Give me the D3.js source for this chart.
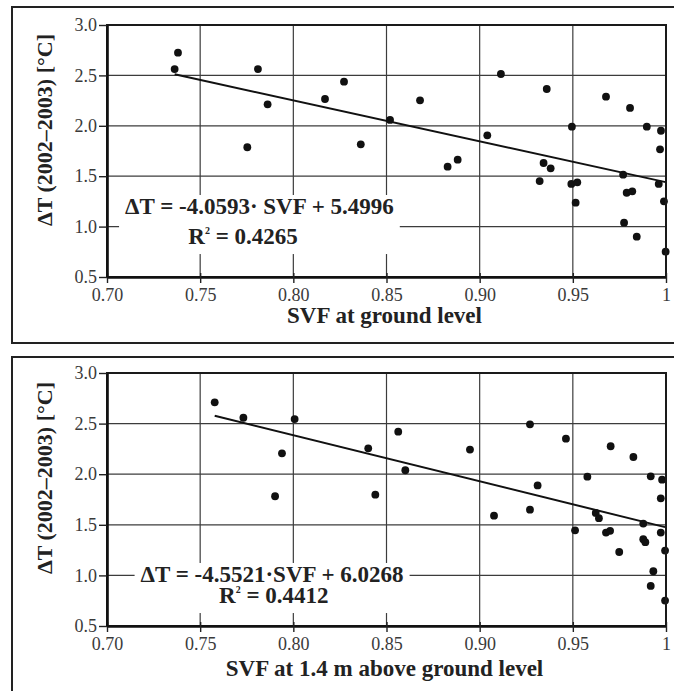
<!DOCTYPE html>
<html>
<head>
  <meta charset="utf-8">
  <title>SVF vs dT</title>
  <style>
    body { margin: 0; background: #fff; overflow: hidden; }
    svg { display: block; font-family: "Liberation Serif", "Times New Roman", serif; }
    .tick text { font-family: "Liberation Serif", "Times New Roman", serif; font-size: 18px; fill: #3a3a3a; }
    .grid line { stroke: #3c3c3c; stroke-width: 1.2; }
    .title { font-size: 22px; font-weight: bold; fill: #222; }
    .xtitle { font-size: 23px; }
    .eq { font-size: 23px; font-weight: bold; fill: #222; }
  </style>
</head>
<body>
<svg id="chart" width="674" height="691"></svg>
<script src="https://cdn.jsdelivr.net/npm/d3@7"></script>
<script>
// axis ticks (shared by both panels)
const xTicks = [0.70, 0.75, 0.80, 0.85, 0.90, 0.95, 1.00];
const xTickLabels = ["0.70", "0.75", "0.80", "0.85", "0.90", "0.95", "1"];
const yTicks = [0.5, 1.0, 1.5, 2.0, 2.5, 3.0];
const yTickLabels = ["0.5", "1.0", "1.5", "2.0", "2.5", "3.0"];

// panel 1: SVF at ground level
const svfGround = [0.7381, 0.7363, 0.781, 0.7862, 0.7753, 0.817, 0.8272, 0.868, 0.8519, 0.8362,
  0.8828, 0.8882, 0.9041, 0.9114, 0.936, 0.9343, 0.9381, 0.9322, 0.9495, 0.9492,
  0.9524, 0.9515, 0.9678, 0.9807, 0.977, 0.9789, 0.9819, 0.9775, 0.9843, 0.9897,
  0.9973, 0.9968, 0.9961, 0.9989, 0.9998];
const dtGround = [2.725, 2.563, 2.563, 2.213, 1.787, 2.266, 2.438, 2.253, 2.058, 1.816,
  1.594, 1.664, 1.906, 2.514, 2.365, 1.631, 1.578, 1.452, 1.991, 1.423,
  1.439, 1.237, 2.289, 2.177, 1.515, 1.336, 1.35, 1.039, 0.9, 1.991,
  1.951, 1.767, 1.423, 1.251, 0.751];

// panel 2: SVF at 1.4 m above ground level
const svf14 = [0.7578, 0.7732, 0.8007, 0.7939, 0.7902, 0.8402, 0.8563, 0.8601, 0.844, 0.8948,
  0.9077, 0.927, 0.927, 0.9311, 0.9463, 0.9512, 0.9578, 0.9703, 0.9623, 0.964,
  0.9678, 0.97, 0.9749, 0.9825, 0.9878, 0.9878, 0.9889, 0.9918, 0.9979, 0.9972,
  0.9972, 0.9995, 0.9932, 0.9918, 0.9995];
const dt14 = [2.71, 2.558, 2.545, 2.206, 1.782, 2.256, 2.42, 2.039, 1.798, 2.243,
  1.59, 2.493, 1.649, 1.889, 2.351, 1.445, 1.976, 2.276, 1.617, 1.565,
  1.423, 1.44, 1.231, 2.17, 1.512, 1.358, 1.328, 1.979, 1.946, 1.762,
  1.423, 1.245, 1.041, 0.896, 0.751];

const xTitles = ["SVF at ground level", "SVF at 1.4 m above ground level"];
const yTitle = "\u0394T (2002\u20132003) [\u00b0C]";
const slopes = [-4.0593, -4.5521];
const intercepts = [5.4996, 6.0268];
const eqTexts = ["\u0394T = -4.0593\u00b7 SVF + 5.4996", "\u0394T = -4.5521\u00b7SVF + 6.0268"];
const r2Texts = ["0.4265", "0.4412"];

const panels = [
  { top: 7, height: 336, plotTop: 25, plotBottom: 277, titleGap: 46,
    eq: [0.7818, 1.125], r2: [0.773, 0.827], xs: svfGround, ys: dtGround },
  { top: 357, height: 400, plotTop: 373, plotBottom: 626, titleGap: 50,
    eq: [0.7886, 0.935], r2: [0.7895, 0.727], xs: svf14, ys: dt14 }
];

const svg = d3.select("#chart");
const plotLeft = 107, plotRight = 666;

panels.forEach(function(p, k) {
  const g = svg.append("g");
  const x = d3.scaleLinear().domain([0.70, 1.0]).range([plotLeft, plotRight]);
  const y = d3.scaleLinear().domain([0.5, 3.0]).range([p.plotBottom, p.plotTop]);

  // panel frame
  g.append("rect")
    .attr("x", 12).attr("y", p.top)
    .attr("width", 700).attr("height", p.height)
    .attr("fill", "#fff").attr("stroke", "#222").attr("stroke-width", 2);

  // grid
  const grid = g.append("g").attr("class", "grid");
  grid.selectAll(".vx").data(xTicks.slice(1, -1)).enter().append("line")
    .attr("x1", d => x(d)).attr("x2", d => x(d))
    .attr("y1", p.plotTop).attr("y2", p.plotBottom);
  grid.selectAll(".hy").data(yTicks.slice(1, -1)).enter().append("line")
    .attr("y1", d => y(d)).attr("y2", d => y(d))
    .attr("x1", plotLeft).attr("x2", plotRight);

  // equation with white box behind it
  const eqG = g.append("g");
  const box = eqG.append("rect").attr("fill", "#fff");
  eqG.append("text").attr("class", "eq")
    .attr("x", x(p.eq[0])).attr("y", y(p.eq[1]))
    .attr("text-anchor", "middle")
    .text(eqTexts[k]);
  const r2 = eqG.append("text").attr("class", "eq")
    .attr("x", x(p.r2[0])).attr("y", y(p.r2[1]))
    .attr("text-anchor", "middle");
  r2.append("tspan").text("R");
  r2.append("tspan").attr("font-size", 10).attr("dy", -10).text("2");
  r2.append("tspan").attr("dy", 10).text(" = " + r2Texts[k]);
  const bb = eqG.node().getBBox();
  box.attr("x", bb.x - 6).attr("y", bb.y + 1)
    .attr("width", bb.width + 12).attr("height", bb.height + 4);

  // regression line over the data range
  const ext = d3.extent(p.xs);
  const line = d3.line().x(d => x(d)).y(d => y(slopes[k] * d + intercepts[k]));
  g.append("path").datum(ext)
    .attr("d", line)
    .attr("fill", "none").attr("stroke", "#111").attr("stroke-width", 2);

  // points
  g.selectAll("circle").data(p.xs).enter().append("circle")
    .attr("cx", d => x(d))
    .attr("cy", (d, i) => y(p.ys[i]))
    .attr("r", 3.9)
    .attr("fill", "#111");

  // plot border
  g.append("rect")
    .attr("x", plotLeft).attr("y", p.plotTop)
    .attr("width", plotRight - plotLeft).attr("height", p.plotBottom - p.plotTop)
    .attr("fill", "none").attr("stroke", "#1a1a1a").attr("stroke-width", 2);

  // axes
  const ax = g.append("g")
    .attr("transform", "translate(0," + p.plotBottom + ")")
    .call(d3.axisBottom(x).tickValues(xTicks)
      .tickFormat((d, i) => xTickLabels[i])
      .tickSize(6).tickSizeOuter(0).tickPadding(5));
  const ay = g.append("g")
    .attr("transform", "translate(" + plotLeft + ",0)")
    .call(d3.axisLeft(y).tickValues(yTicks)
      .tickFormat((d, i) => yTickLabels[i])
      .tickSize(8).tickSizeOuter(0).tickPadding(2));
  [ax, ay].forEach(function(a) {
    a.attr("font-family", null).attr("font-size", null);
    a.select(".domain").attr("stroke", "#111").attr("stroke-width", 2.6);
    a.selectAll(".tick line").attr("stroke", "#222").attr("stroke-width", 1.4);
  });
  ax.selectAll(".tick line").attr("y1", -4);

  // titles
  g.append("text").attr("class", "title xtitle")
    .attr("x", (plotLeft + plotRight) / 2 - 2)
    .attr("y", p.plotBottom + p.titleGap)
    .attr("text-anchor", "middle")
    .text(xTitles[k]);
  g.append("text").attr("class", "title")
    .attr("transform", "translate(52," + (p.plotTop + 105) + ") rotate(-90)")
    .attr("text-anchor", "middle")
    .text(yTitle);
});
</script>
</body>
</html>
